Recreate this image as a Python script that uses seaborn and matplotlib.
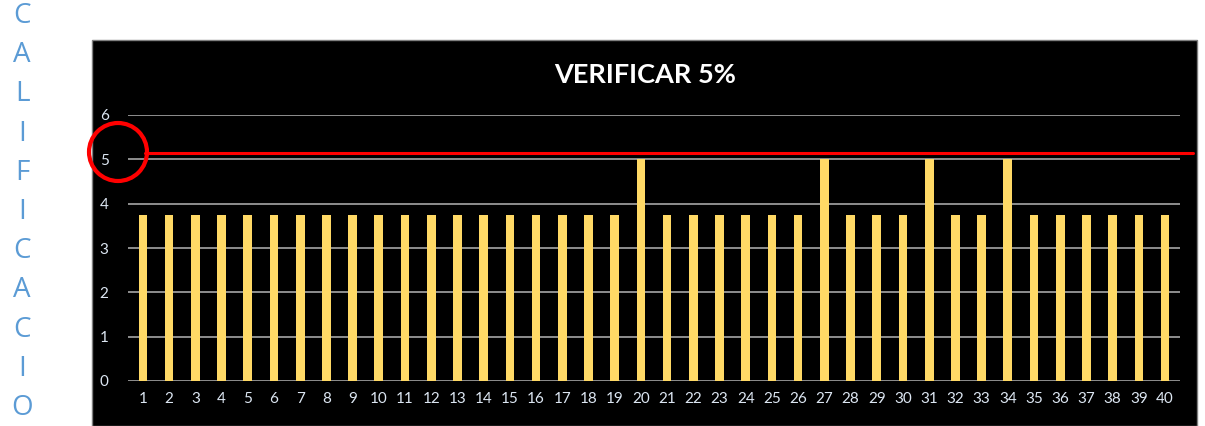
import matplotlib
matplotlib.use("Agg")
import matplotlib.pyplot as plt
import matplotlib.patches as mpatches
import matplotlib.transforms as mtransforms
import seaborn as sns
import pandas as pd

# --- DATA ---
preguntas = [str(i) for i in range(1, 41)]
calificacion = [3.75] * 40
for q in (20, 27, 31, 34):
    calificacion[q - 1] = 5
limite = 5.15
titulo = "VERIFICAR 5%"
etiqueta_vertical = "CALIFICACIO"
y_ticks = [0, 1, 2, 3, 4, 5, 6]

df = pd.DataFrame({"pregunta": preguntas, "calificacion": calificacion})

sns.set_theme(style="dark")
plt.rcParams["font.family"] = ["Lato", "DejaVu Sans"]

fig = plt.figure(figsize=(12.05, 4.26), dpi=100)
fig.patch.set_facecolor("white")
W, H = 1205, 426

# black chart area (behind the axes)
bg = mpatches.Rectangle((92 / W, 0), (1197 - 92) / W, (426 - 40) / H,
                        transform=fig.transFigure, facecolor="black",
                        edgecolor="#7f7f7f", linewidth=1, zorder=-10)
fig.patches.append(bg)

ax = fig.add_axes([128 / W, 1 - 381 / H, (1180 - 128) / W, (381 - 115) / H])
ax.set_facecolor("black")
ax.patch.set_alpha(0)

sns.barplot(data=df, x="pregunta", y="calificacion", color="#FFD966",
            width=0.33, saturation=1, linewidth=0, ax=ax, zorder=3)

ax.set_ylim(0, 6)
ax.set_xlim(-0.57, 39.57)
ax.set_yticks(y_ticks)
ax.set_axisbelow(True)
ax.yaxis.grid(True, color="#a6a6a6", linewidth=1.2)
ax.xaxis.grid(False)
for s in ax.spines.values():
    s.set_visible(False)
ax.set_xlabel("")
ax.set_ylabel("")
ax.tick_params(axis="both", colors="#dce6f2", labelsize=11, length=0)
ax.tick_params(axis="y", pad=14)
ax.tick_params(axis="x", pad=8)

# red limit line
trans = mtransforms.blended_transform_factory(ax.transAxes, ax.transData)
ax.plot([(145 - 128) / 1052, (1193 - 128) / 1052], [limite, limite],
        color="#ff0000", linewidth=2.2, transform=trans, clip_on=False, zorder=4)

# red circle around the 5
circ = mpatches.Ellipse((118 / W, 1 - 152 / H), 58 / W, 58 / H,
                        transform=fig.transFigure, fill=False,
                        edgecolor="#ff0000", linewidth=3, zorder=5)
fig.patches.append(circ)

fig.text(645 / W, 1 - 75 / H, titulo, color="white", fontsize=19.5,
         fontweight="bold", ha="center", va="center")

# vertical label on the left
for i, letra in enumerate(etiqueta_vertical):
    fig.text(22 / W, 1 - (16 + i * 39.2) / H, letra, color="#5b9bd5",
             fontsize=20, ha="center", va="center",
             family=["Open Sans", "DejaVu Sans"])

plt.savefig("out.png", dpi=100)
